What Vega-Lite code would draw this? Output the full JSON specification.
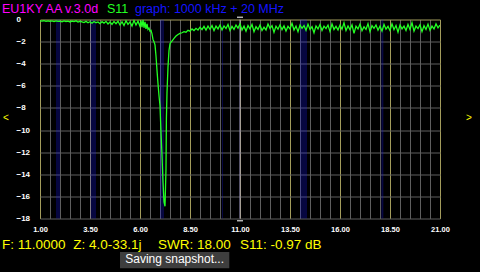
{
  "$schema": "https://vega.github.io/schema/vega-lite/v6.json",
  "width": 400,
  "height": 199,
  "autosize": "none",
  "padding": {"left": 40, "top": 19.5, "right": 40, "bottom": 53.5},
  "background": "#000000",
  "config": {"view": {"stroke": null}, "font": "Liberation Sans"},
  "datasets": {
    "bands": [
      {"f": 1.8, "f2": 2.0}, {"f": 3.5, "f2": 3.8}, {"f": 7.0, "f2": 7.2},
      {"f": 10.1, "f2": 10.15}, {"f": 14.0, "f2": 14.35}, {"f": 18.068, "f2": 18.168}
    ],
    "cursor": [{"f": 11.0}],
    "marks": [{"f": 11.0, "s": 0.2}, {"f": 11.0, "s": -18.2}],
    "trace": [
      {"f":1.0,"s":-0.12},{"f":1.1,"s":-0.14},{"f":1.2,"s":-0.11},{"f":1.3,"s":-0.16},{"f":1.4,"s":-0.12},
      {"f":1.5,"s":-0.17},{"f":1.6,"s":-0.13},{"f":1.7,"s":-0.19},{"f":1.8,"s":-0.12},{"f":1.9,"s":-0.17},
      {"f":2.0,"s":-0.14},{"f":2.1,"s":-0.21},{"f":2.2,"s":-0.13},{"f":2.3,"s":-0.18},{"f":2.4,"s":-0.15},
      {"f":2.5,"s":-0.22},{"f":2.6,"s":-0.14},{"f":2.7,"s":-0.19},{"f":2.8,"s":-0.12},{"f":2.9,"s":-0.23},
      {"f":3.0,"s":-0.16},{"f":3.1,"s":-0.21},{"f":3.2,"s":-0.28},{"f":3.3,"s":-0.17},{"f":3.4,"s":-0.3},
      {"f":3.5,"s":-0.2},{"f":3.6,"s":-0.34},{"f":3.7,"s":-0.18},{"f":3.8,"s":-0.29},{"f":3.9,"s":-0.22},
      {"f":4.0,"s":-0.38},{"f":4.1,"s":-0.2},{"f":4.2,"s":-0.33},{"f":4.3,"s":-0.17},{"f":4.4,"s":-0.4},
      {"f":4.5,"s":-0.23},{"f":4.6,"s":-0.45},{"f":4.7,"s":-0.18},{"f":4.8,"s":-0.38},{"f":4.9,"s":-0.16},
      {"f":5.0,"s":-0.5},{"f":5.1,"s":-0.2},{"f":5.2,"s":-0.55},{"f":5.3,"s":-0.12},{"f":5.4,"s":-0.44},
      {"f":5.5,"s":-0.22},{"f":5.6,"s":-0.6},{"f":5.7,"s":-0.08},{"f":5.8,"s":-0.5},{"f":5.9,"s":-0.15},
      {"f":6.0,"s":-0.62},{"f":6.05,"s":-0.1},{"f":6.1,"s":-0.7},{"f":6.15,"s":-0.02},{"f":6.2,"s":-0.75},
      {"f":6.25,"s":-0.22},{"f":6.3,"s":-0.85},{"f":6.35,"s":-0.4},{"f":6.4,"s":-0.9},{"f":6.45,"s":-0.78},
      {"f":6.5,"s":-1.05},{"f":6.55,"s":-0.98},{"f":6.6,"s":-1.3},{"f":6.65,"s":-1.8},{"f":6.7,"s":-2.0},
      {"f":6.75,"s":-2.3},{"f":6.8,"s":-3.3},{"f":6.85,"s":-4.6},{"f":6.9,"s":-5.8},{"f":6.95,"s":-6.9},
      {"f":7.0,"s":-7.8},{"f":7.05,"s":-10.2},{"f":7.1,"s":-12.3},{"f":7.15,"s":-14.7},{"f":7.2,"s":-16.5},
      {"f":7.25,"s":-16.9},{"f":7.3,"s":-13.5},{"f":7.32,"s":-9.0},{"f":7.35,"s":-6.6},{"f":7.4,"s":-4.3},
      {"f":7.45,"s":-2.8},{"f":7.5,"s":-2.2},{"f":7.55,"s":-2.05},{"f":7.6,"s":-1.95},{"f":7.7,"s":-1.7},
      {"f":7.8,"s":-1.5},{"f":7.9,"s":-1.35},{"f":8.0,"s":-1.25},{"f":8.1,"s":-1.2},{"f":8.2,"s":-1.1},
      {"f":8.3,"s":-1.15},{"f":8.4,"s":-0.98},{"f":8.5,"s":-1.05},{"f":8.6,"s":-0.85},{"f":8.7,"s":-1.0},
      {"f":8.8,"s":-0.8},{"f":8.9,"s":-0.95},{"f":9.0,"s":-0.7},{"f":9.1,"s":-0.92},{"f":9.2,"s":-0.62},
      {"f":9.3,"s":-0.95},{"f":9.4,"s":-0.6},{"f":9.5,"s":-0.88},{"f":9.6,"s":-0.55},{"f":9.7,"s":-1.0},
      {"f":9.8,"s":-0.6},{"f":9.9,"s":-0.85},{"f":10.0,"s":-0.5},{"f":10.1,"s":-0.95},{"f":10.2,"s":-0.58},
      {"f":10.3,"s":-0.82},{"f":10.4,"s":-0.45},{"f":10.5,"s":-1.0},{"f":10.6,"s":-0.62},{"f":10.7,"s":-0.9},
      {"f":10.8,"s":-0.5},{"f":10.9,"s":-0.78},{"f":11.0,"s":-0.4},{"f":11.1,"s":-0.95},{"f":11.2,"s":-0.6},
      {"f":11.3,"s":-1.05},{"f":11.4,"s":-0.55},{"f":11.5,"s":-0.85},{"f":11.6,"s":-0.45},{"f":11.7,"s":-1.1},
      {"f":11.8,"s":-0.65},{"f":11.9,"s":-0.9},{"f":12.0,"s":-0.5},{"f":12.1,"s":-1.0},{"f":12.2,"s":-0.7},
      {"f":12.3,"s":-0.95},{"f":12.4,"s":-0.4},{"f":12.5,"s":-0.8},{"f":12.6,"s":-0.55},{"f":12.7,"s":-1.15},
      {"f":12.8,"s":-0.6},{"f":12.9,"s":-0.88},{"f":13.0,"s":-0.48},{"f":13.1,"s":-0.92},{"f":13.2,"s":-0.58},
      {"f":13.3,"s":-1.05},{"f":13.4,"s":-0.62},{"f":13.5,"s":-0.85},{"f":13.6,"s":-0.35},{"f":13.7,"s":-0.95},
      {"f":13.8,"s":-0.6},{"f":13.9,"s":-1.1},{"f":14.0,"s":-0.5},{"f":14.1,"s":-0.8},{"f":14.2,"s":-0.55},
      {"f":14.3,"s":-0.98},{"f":14.4,"s":-0.42},{"f":14.5,"s":-0.9},{"f":14.6,"s":-0.65},{"f":14.7,"s":-1.2},
      {"f":14.8,"s":-0.58},{"f":14.9,"s":-0.85},{"f":15.0,"s":-0.45},{"f":15.1,"s":-1.0},{"f":15.2,"s":-0.6},
      {"f":15.3,"s":-0.82},{"f":15.4,"s":-0.5},{"f":15.5,"s":-1.08},{"f":15.6,"s":-0.4},{"f":15.7,"s":-0.9},
      {"f":15.8,"s":-0.62},{"f":15.9,"s":-0.95},{"f":16.0,"s":-0.5},{"f":16.1,"s":-0.88},{"f":16.2,"s":-0.3},
      {"f":16.3,"s":-1.0},{"f":16.4,"s":-0.58},{"f":16.5,"s":-0.92},{"f":16.6,"s":-0.48},{"f":16.7,"s":-1.25},
      {"f":16.8,"s":-0.6},{"f":16.9,"s":-0.85},{"f":17.0,"s":-0.42},{"f":17.1,"s":-1.02},{"f":17.2,"s":-0.65},
      {"f":17.3,"s":-0.9},{"f":17.4,"s":-0.38},{"f":17.5,"s":-1.1},{"f":17.6,"s":-0.55},{"f":17.7,"s":-0.8},
      {"f":17.8,"s":-0.5},{"f":17.9,"s":-0.97},{"f":18.0,"s":-0.6},{"f":18.1,"s":-1.05},{"f":18.2,"s":-0.45},
      {"f":18.3,"s":-0.88},{"f":18.4,"s":-0.62},{"f":18.5,"s":-1.0},{"f":18.6,"s":-0.4},{"f":18.7,"s":-0.92},
      {"f":18.8,"s":-0.55},{"f":18.9,"s":-1.15},{"f":19.0,"s":-0.5},{"f":19.1,"s":-0.85},{"f":19.2,"s":-0.6},
      {"f":19.3,"s":-1.0},{"f":19.4,"s":-0.45},{"f":19.5,"s":-0.9},{"f":19.6,"s":-0.3},{"f":19.7,"s":-1.05},
      {"f":19.8,"s":-0.6},{"f":19.9,"s":-0.82},{"f":20.0,"s":-0.48},{"f":20.1,"s":-1.1},{"f":20.2,"s":-0.55},
      {"f":20.3,"s":-0.9},{"f":20.4,"s":-0.42},{"f":20.5,"s":-0.98},{"f":20.6,"s":-0.6},{"f":20.7,"s":-0.85},
      {"f":20.8,"s":-0.4},{"f":20.9,"s":-0.75},{"f":21.0,"s":-0.5}
    ],
    "labels": [
      {"f": -0.9, "s": 0.615, "text": "EU1KY AA v.3.0d", "kind": "title"},
      {"f": 4.35, "s": 0.615, "text": "S11", "kind": "mode"},
      {"f": 5.75, "s": 0.615, "text": "graph: 1000 kHz + 20 MHz", "kind": "graph"}
    ],
    "status": [
      {"f": -0.9, "s": -20.785, "text": "F: 11.0000"},
      {"f": 2.665, "s": -20.785, "text": "Z: 4.0-33.1j"},
      {"f": 6.9, "s": -20.785, "text": "SWR: 18.00"},
      {"f": 11.0, "s": -20.785, "text": "S11: -0.97 dB"}
    ],
    "arrows": [
      {"f": -0.7, "s": -8.91, "text": "<"},
      {"f": 22.45, "s": -8.91, "text": ">"}
    ],
    "snapshot": [{"f": 5.0, "f2": 10.465, "s": -21.03, "s2": -22.5}],
    "snaptext": [{"f": 7.73, "s": -22.0, "text": "Saving snapshot..."}]
  },
  "layer": [
    {
      "data": {"name": "bands"},
      "mark": {"type": "rect", "color": "#1818ff", "opacity": 0.25},
      "encoding": {
        "x": {"field": "f", "type": "quantitative", "title": null,
          "scale": {"domain": [1, 21], "nice": false, "zero": false},
          "axis": {"title": null, "values": [1,1.5,2,2.5,3,3.5,4,4.5,5,5.5,6,6.5,7,7.5,8,8.5,9,9.5,10,10.5,11,11.5,12,12.5,13,13.5,14,14.5,15,15.5,16,16.5,17,17.5,18,18.5,19,19.5,20,20.5,21], "domain": false, "ticks": false, "tickSize": 0, "grid": true, "gridWidth": 1, "gridOpacity": 1, "gridColor": {"condition": {"test": "abs((datum.value - 1) / 2.5 - round((datum.value - 1) / 2.5)) < 0.01", "value": "#a39c5c"}, "value": "#5e5e5e"}, "labelExpr": "abs((datum.value - 1) / 2.5 - round((datum.value - 1) / 2.5)) < 0.01 ? format(datum.value, '.2f') : ''", "labelColor": "#ffffff", "labelFont": "Liberation Sans", "labelFontWeight": "bold", "labelFontSize": 7.5, "labelPadding": 7, "labelBaseline": "top", "labelAlign": "center", "labelOverlap": false, "labelFlush": false}},
        "x2": {"field": "f2"}
      }
    },
    {
      "data": {"name": "cursor"},
      "mark": {"type": "rule", "color": "#a8a0cc", "strokeWidth": 1},
      "encoding": {
        "x": {"field": "f", "type": "quantitative", "title": null,
          "scale": {"domain": [1, 21], "nice": false, "zero": false},
          "axis": {"title": null, "values": [1,1.5,2,2.5,3,3.5,4,4.5,5,5.5,6,6.5,7,7.5,8,8.5,9,9.5,10,10.5,11,11.5,12,12.5,13,13.5,14,14.5,15,15.5,16,16.5,17,17.5,18,18.5,19,19.5,20,20.5,21], "domain": false, "ticks": false, "tickSize": 0, "grid": true, "gridWidth": 1, "gridOpacity": 1, "gridColor": {"condition": {"test": "abs((datum.value - 1) / 2.5 - round((datum.value - 1) / 2.5)) < 0.01", "value": "#a39c5c"}, "value": "#5e5e5e"}, "labelExpr": "abs((datum.value - 1) / 2.5 - round((datum.value - 1) / 2.5)) < 0.01 ? format(datum.value, '.2f') : ''", "labelColor": "#ffffff", "labelFont": "Liberation Sans", "labelFontWeight": "bold", "labelFontSize": 7.5, "labelPadding": 7, "labelBaseline": "top", "labelAlign": "center", "labelOverlap": false, "labelFlush": false}}
      }
    },
    {
      "data": {"name": "trace"},
      "mark": {"type": "line", "color": "#22ff22", "strokeWidth": 1.3, "clip": true},
      "encoding": {
        "x": {"field": "f", "type": "quantitative", "title": null,
          "scale": {"domain": [1, 21], "nice": false, "zero": false},
          "axis": {"title": null, "values": [1,1.5,2,2.5,3,3.5,4,4.5,5,5.5,6,6.5,7,7.5,8,8.5,9,9.5,10,10.5,11,11.5,12,12.5,13,13.5,14,14.5,15,15.5,16,16.5,17,17.5,18,18.5,19,19.5,20,20.5,21], "domain": false, "ticks": false, "tickSize": 0, "grid": true, "gridWidth": 1, "gridOpacity": 1, "gridColor": {"condition": {"test": "abs((datum.value - 1) / 2.5 - round((datum.value - 1) / 2.5)) < 0.01", "value": "#a39c5c"}, "value": "#5e5e5e"}, "labelExpr": "abs((datum.value - 1) / 2.5 - round((datum.value - 1) / 2.5)) < 0.01 ? format(datum.value, '.2f') : ''", "labelColor": "#ffffff", "labelFont": "Liberation Sans", "labelFontWeight": "bold", "labelFontSize": 7.5, "labelPadding": 7, "labelBaseline": "top", "labelAlign": "center", "labelOverlap": false, "labelFlush": false}},
        "y": {"field": "s", "type": "quantitative", "title": null,
          "scale": {"domain": [-18, 0], "nice": false, "zero": false},
          "axis": {"title": null, "values": [-18,-16,-14,-12,-10,-8,-6,-4,-2,0], "domain": false, "ticks": false, "tickSize": 0, "grid": true, "gridWidth": 1, "gridOpacity": 1, "gridColor": {"condition": {"test": "datum.value === 0", "value": "#a39c5c"}, "value": "#5e5e5e"}, "labelColor": "#ffffff", "labelFont": "Liberation Sans", "labelFontWeight": "bold", "labelFontSize": 8, "labelPadding": 24, "labelAlign": "left", "labelBaseline": "middle", "labelOverlap": false, "labelFlush": false}}
      }
    },
    {
      "data": {"name": "marks"},
      "mark": {"type": "tick", "orient": "horizontal", "color": "#ffffff", "size": 6, "thickness": 1.5},
      "encoding": {
        "x": {"field": "f", "type": "quantitative", "title": null,
          "scale": {"domain": [1, 21], "nice": false, "zero": false},
          "axis": {"title": null, "values": [1,1.5,2,2.5,3,3.5,4,4.5,5,5.5,6,6.5,7,7.5,8,8.5,9,9.5,10,10.5,11,11.5,12,12.5,13,13.5,14,14.5,15,15.5,16,16.5,17,17.5,18,18.5,19,19.5,20,20.5,21], "domain": false, "ticks": false, "tickSize": 0, "grid": true, "gridWidth": 1, "gridOpacity": 1, "gridColor": {"condition": {"test": "abs((datum.value - 1) / 2.5 - round((datum.value - 1) / 2.5)) < 0.01", "value": "#a39c5c"}, "value": "#5e5e5e"}, "labelExpr": "abs((datum.value - 1) / 2.5 - round((datum.value - 1) / 2.5)) < 0.01 ? format(datum.value, '.2f') : ''", "labelColor": "#ffffff", "labelFont": "Liberation Sans", "labelFontWeight": "bold", "labelFontSize": 7.5, "labelPadding": 7, "labelBaseline": "top", "labelAlign": "center", "labelOverlap": false, "labelFlush": false}},
        "y": {"field": "s", "type": "quantitative", "title": null,
          "scale": {"domain": [-18, 0], "nice": false, "zero": false},
          "axis": {"title": null, "values": [-18,-16,-14,-12,-10,-8,-6,-4,-2,0], "domain": false, "ticks": false, "tickSize": 0, "grid": true, "gridWidth": 1, "gridOpacity": 1, "gridColor": {"condition": {"test": "datum.value === 0", "value": "#a39c5c"}, "value": "#5e5e5e"}, "labelColor": "#ffffff", "labelFont": "Liberation Sans", "labelFontWeight": "bold", "labelFontSize": 8, "labelPadding": 24, "labelAlign": "left", "labelBaseline": "middle", "labelOverlap": false, "labelFlush": false}}
      }
    },
    {
      "data": {"name": "labels"},
      "mark": {"type": "text", "align": "left", "baseline": "alphabetic", "font": "Liberation Sans", "fontSize": 12.5},
      "encoding": {
        "x": {"field": "f", "type": "quantitative", "title": null,
          "scale": {"domain": [1, 21], "nice": false, "zero": false},
          "axis": {"title": null, "values": [1,1.5,2,2.5,3,3.5,4,4.5,5,5.5,6,6.5,7,7.5,8,8.5,9,9.5,10,10.5,11,11.5,12,12.5,13,13.5,14,14.5,15,15.5,16,16.5,17,17.5,18,18.5,19,19.5,20,20.5,21], "domain": false, "ticks": false, "tickSize": 0, "grid": true, "gridWidth": 1, "gridOpacity": 1, "gridColor": {"condition": {"test": "abs((datum.value - 1) / 2.5 - round((datum.value - 1) / 2.5)) < 0.01", "value": "#a39c5c"}, "value": "#5e5e5e"}, "labelExpr": "abs((datum.value - 1) / 2.5 - round((datum.value - 1) / 2.5)) < 0.01 ? format(datum.value, '.2f') : ''", "labelColor": "#ffffff", "labelFont": "Liberation Sans", "labelFontWeight": "bold", "labelFontSize": 7.5, "labelPadding": 7, "labelBaseline": "top", "labelAlign": "center", "labelOverlap": false, "labelFlush": false}},
        "y": {"field": "s", "type": "quantitative", "title": null,
          "scale": {"domain": [-18, 0], "nice": false, "zero": false},
          "axis": {"title": null, "values": [-18,-16,-14,-12,-10,-8,-6,-4,-2,0], "domain": false, "ticks": false, "tickSize": 0, "grid": true, "gridWidth": 1, "gridOpacity": 1, "gridColor": {"condition": {"test": "datum.value === 0", "value": "#a39c5c"}, "value": "#5e5e5e"}, "labelColor": "#ffffff", "labelFont": "Liberation Sans", "labelFontWeight": "bold", "labelFontSize": 8, "labelPadding": 24, "labelAlign": "left", "labelBaseline": "middle", "labelOverlap": false, "labelFlush": false}},
        "text": {"field": "text"},
        "color": {"field": "kind", "type": "nominal", "legend": null,
          "scale": {"domain": ["title", "mode", "graph"], "range": ["#ff00ff", "#22ff22", "#1414ff"]}}
      }
    },
    {
      "data": {"name": "status"},
      "mark": {"type": "text", "align": "left", "baseline": "alphabetic", "font": "Liberation Sans", "fontSize": 13.5, "color": "#ffff00"},
      "encoding": {
        "x": {"field": "f", "type": "quantitative", "title": null,
          "scale": {"domain": [1, 21], "nice": false, "zero": false},
          "axis": {"title": null, "values": [1,1.5,2,2.5,3,3.5,4,4.5,5,5.5,6,6.5,7,7.5,8,8.5,9,9.5,10,10.5,11,11.5,12,12.5,13,13.5,14,14.5,15,15.5,16,16.5,17,17.5,18,18.5,19,19.5,20,20.5,21], "domain": false, "ticks": false, "tickSize": 0, "grid": true, "gridWidth": 1, "gridOpacity": 1, "gridColor": {"condition": {"test": "abs((datum.value - 1) / 2.5 - round((datum.value - 1) / 2.5)) < 0.01", "value": "#a39c5c"}, "value": "#5e5e5e"}, "labelExpr": "abs((datum.value - 1) / 2.5 - round((datum.value - 1) / 2.5)) < 0.01 ? format(datum.value, '.2f') : ''", "labelColor": "#ffffff", "labelFont": "Liberation Sans", "labelFontWeight": "bold", "labelFontSize": 7.5, "labelPadding": 7, "labelBaseline": "top", "labelAlign": "center", "labelOverlap": false, "labelFlush": false}},
        "y": {"field": "s", "type": "quantitative", "title": null,
          "scale": {"domain": [-18, 0], "nice": false, "zero": false},
          "axis": {"title": null, "values": [-18,-16,-14,-12,-10,-8,-6,-4,-2,0], "domain": false, "ticks": false, "tickSize": 0, "grid": true, "gridWidth": 1, "gridOpacity": 1, "gridColor": {"condition": {"test": "datum.value === 0", "value": "#a39c5c"}, "value": "#5e5e5e"}, "labelColor": "#ffffff", "labelFont": "Liberation Sans", "labelFontWeight": "bold", "labelFontSize": 8, "labelPadding": 24, "labelAlign": "left", "labelBaseline": "middle", "labelOverlap": false, "labelFlush": false}},
        "text": {"field": "text"}
      }
    },
    {
      "data": {"name": "arrows"},
      "mark": {"type": "text", "align": "center", "baseline": "middle", "font": "Liberation Sans", "fontSize": 10, "color": "#ffff00"},
      "encoding": {
        "x": {"field": "f", "type": "quantitative", "title": null,
          "scale": {"domain": [1, 21], "nice": false, "zero": false},
          "axis": {"title": null, "values": [1,1.5,2,2.5,3,3.5,4,4.5,5,5.5,6,6.5,7,7.5,8,8.5,9,9.5,10,10.5,11,11.5,12,12.5,13,13.5,14,14.5,15,15.5,16,16.5,17,17.5,18,18.5,19,19.5,20,20.5,21], "domain": false, "ticks": false, "tickSize": 0, "grid": true, "gridWidth": 1, "gridOpacity": 1, "gridColor": {"condition": {"test": "abs((datum.value - 1) / 2.5 - round((datum.value - 1) / 2.5)) < 0.01", "value": "#a39c5c"}, "value": "#5e5e5e"}, "labelExpr": "abs((datum.value - 1) / 2.5 - round((datum.value - 1) / 2.5)) < 0.01 ? format(datum.value, '.2f') : ''", "labelColor": "#ffffff", "labelFont": "Liberation Sans", "labelFontWeight": "bold", "labelFontSize": 7.5, "labelPadding": 7, "labelBaseline": "top", "labelAlign": "center", "labelOverlap": false, "labelFlush": false}},
        "y": {"field": "s", "type": "quantitative", "title": null,
          "scale": {"domain": [-18, 0], "nice": false, "zero": false},
          "axis": {"title": null, "values": [-18,-16,-14,-12,-10,-8,-6,-4,-2,0], "domain": false, "ticks": false, "tickSize": 0, "grid": true, "gridWidth": 1, "gridOpacity": 1, "gridColor": {"condition": {"test": "datum.value === 0", "value": "#a39c5c"}, "value": "#5e5e5e"}, "labelColor": "#ffffff", "labelFont": "Liberation Sans", "labelFontWeight": "bold", "labelFontSize": 8, "labelPadding": 24, "labelAlign": "left", "labelBaseline": "middle", "labelOverlap": false, "labelFlush": false}},
        "text": {"field": "text"}
      }
    },
    {
      "data": {"name": "snapshot"},
      "mark": {"type": "rect", "color": "#3e3e3e"},
      "encoding": {
        "x": {"field": "f", "type": "quantitative", "title": null,
          "scale": {"domain": [1, 21], "nice": false, "zero": false},
          "axis": {"title": null, "values": [1,1.5,2,2.5,3,3.5,4,4.5,5,5.5,6,6.5,7,7.5,8,8.5,9,9.5,10,10.5,11,11.5,12,12.5,13,13.5,14,14.5,15,15.5,16,16.5,17,17.5,18,18.5,19,19.5,20,20.5,21], "domain": false, "ticks": false, "tickSize": 0, "grid": true, "gridWidth": 1, "gridOpacity": 1, "gridColor": {"condition": {"test": "abs((datum.value - 1) / 2.5 - round((datum.value - 1) / 2.5)) < 0.01", "value": "#a39c5c"}, "value": "#5e5e5e"}, "labelExpr": "abs((datum.value - 1) / 2.5 - round((datum.value - 1) / 2.5)) < 0.01 ? format(datum.value, '.2f') : ''", "labelColor": "#ffffff", "labelFont": "Liberation Sans", "labelFontWeight": "bold", "labelFontSize": 7.5, "labelPadding": 7, "labelBaseline": "top", "labelAlign": "center", "labelOverlap": false, "labelFlush": false}},
        "x2": {"field": "f2"},
        "y": {"field": "s", "type": "quantitative", "title": null,
          "scale": {"domain": [-18, 0], "nice": false, "zero": false},
          "axis": {"title": null, "values": [-18,-16,-14,-12,-10,-8,-6,-4,-2,0], "domain": false, "ticks": false, "tickSize": 0, "grid": true, "gridWidth": 1, "gridOpacity": 1, "gridColor": {"condition": {"test": "datum.value === 0", "value": "#a39c5c"}, "value": "#5e5e5e"}, "labelColor": "#ffffff", "labelFont": "Liberation Sans", "labelFontWeight": "bold", "labelFontSize": 8, "labelPadding": 24, "labelAlign": "left", "labelBaseline": "middle", "labelOverlap": false, "labelFlush": false}},
        "y2": {"field": "s2"}
      }
    },
    {
      "data": {"name": "snaptext"},
      "mark": {"type": "text", "align": "center", "baseline": "alphabetic", "font": "Liberation Sans", "fontSize": 12, "color": "#ffffff"},
      "encoding": {
        "x": {"field": "f", "type": "quantitative", "title": null,
          "scale": {"domain": [1, 21], "nice": false, "zero": false},
          "axis": {"title": null, "values": [1,1.5,2,2.5,3,3.5,4,4.5,5,5.5,6,6.5,7,7.5,8,8.5,9,9.5,10,10.5,11,11.5,12,12.5,13,13.5,14,14.5,15,15.5,16,16.5,17,17.5,18,18.5,19,19.5,20,20.5,21], "domain": false, "ticks": false, "tickSize": 0, "grid": true, "gridWidth": 1, "gridOpacity": 1, "gridColor": {"condition": {"test": "abs((datum.value - 1) / 2.5 - round((datum.value - 1) / 2.5)) < 0.01", "value": "#a39c5c"}, "value": "#5e5e5e"}, "labelExpr": "abs((datum.value - 1) / 2.5 - round((datum.value - 1) / 2.5)) < 0.01 ? format(datum.value, '.2f') : ''", "labelColor": "#ffffff", "labelFont": "Liberation Sans", "labelFontWeight": "bold", "labelFontSize": 7.5, "labelPadding": 7, "labelBaseline": "top", "labelAlign": "center", "labelOverlap": false, "labelFlush": false}},
        "y": {"field": "s", "type": "quantitative", "title": null,
          "scale": {"domain": [-18, 0], "nice": false, "zero": false},
          "axis": {"title": null, "values": [-18,-16,-14,-12,-10,-8,-6,-4,-2,0], "domain": false, "ticks": false, "tickSize": 0, "grid": true, "gridWidth": 1, "gridOpacity": 1, "gridColor": {"condition": {"test": "datum.value === 0", "value": "#a39c5c"}, "value": "#5e5e5e"}, "labelColor": "#ffffff", "labelFont": "Liberation Sans", "labelFontWeight": "bold", "labelFontSize": 8, "labelPadding": 24, "labelAlign": "left", "labelBaseline": "middle", "labelOverlap": false, "labelFlush": false}},
        "text": {"field": "text"}
      }
    }
  ]
}
